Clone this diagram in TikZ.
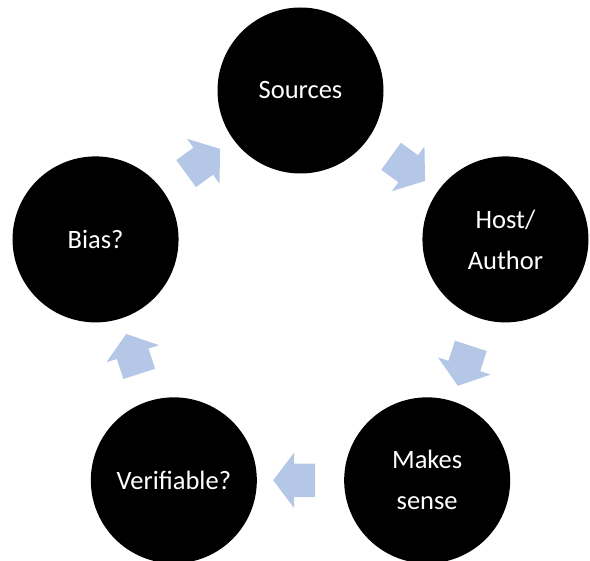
\documentclass[tikz,border=0pt]{standalone}
\usepackage{fontspec}
\setmainfont{Carlito}
\usetikzlibrary{shapes.arrows,calc}
\definecolor{stepblue}{RGB}{180,199,231}

\begin{document}
\begin{tikzpicture}[x=1pt, y=1pt,
    disc/.style={circle, fill=black, minimum size=166pt, inner sep=0pt,
        text=white, align=center, font=\fontsize{26.5}{41}\selectfont},
    flow/.style={single arrow, fill=stepblue, inner xsep=0pt, inner ysep=16.5pt,
        single arrow head extend=11pt, single arrow tip angle=106, minimum height=42pt}]
    \useasboundingbox (0,0) rectangle (590,-561);
    \coordinate (C) at (300.5,-306);
    \path ($(C)+(90:215.5)$) node[disc](src){Sources}
        ($(C)+(18:215.5)$) node[disc](host){Host/\\Author}
        ($(C)+(-54:215.5)$) node[disc](make){Makes\\sense}
        ($(C)+(-126:215.5)$) node[disc](verif){Verifiable?}
        ($(C)+(162:215.5)$) node[disc](bias){Bias?};
    \foreach \a/\b/\r in {src/host/-36, host/make/-108, make/verif/180, verif/bias/108, bias/src/36}
        \node[flow, rotate=\r] at ($(\a)!0.5!(\b)$) {};
\end{tikzpicture}
\end{document}
